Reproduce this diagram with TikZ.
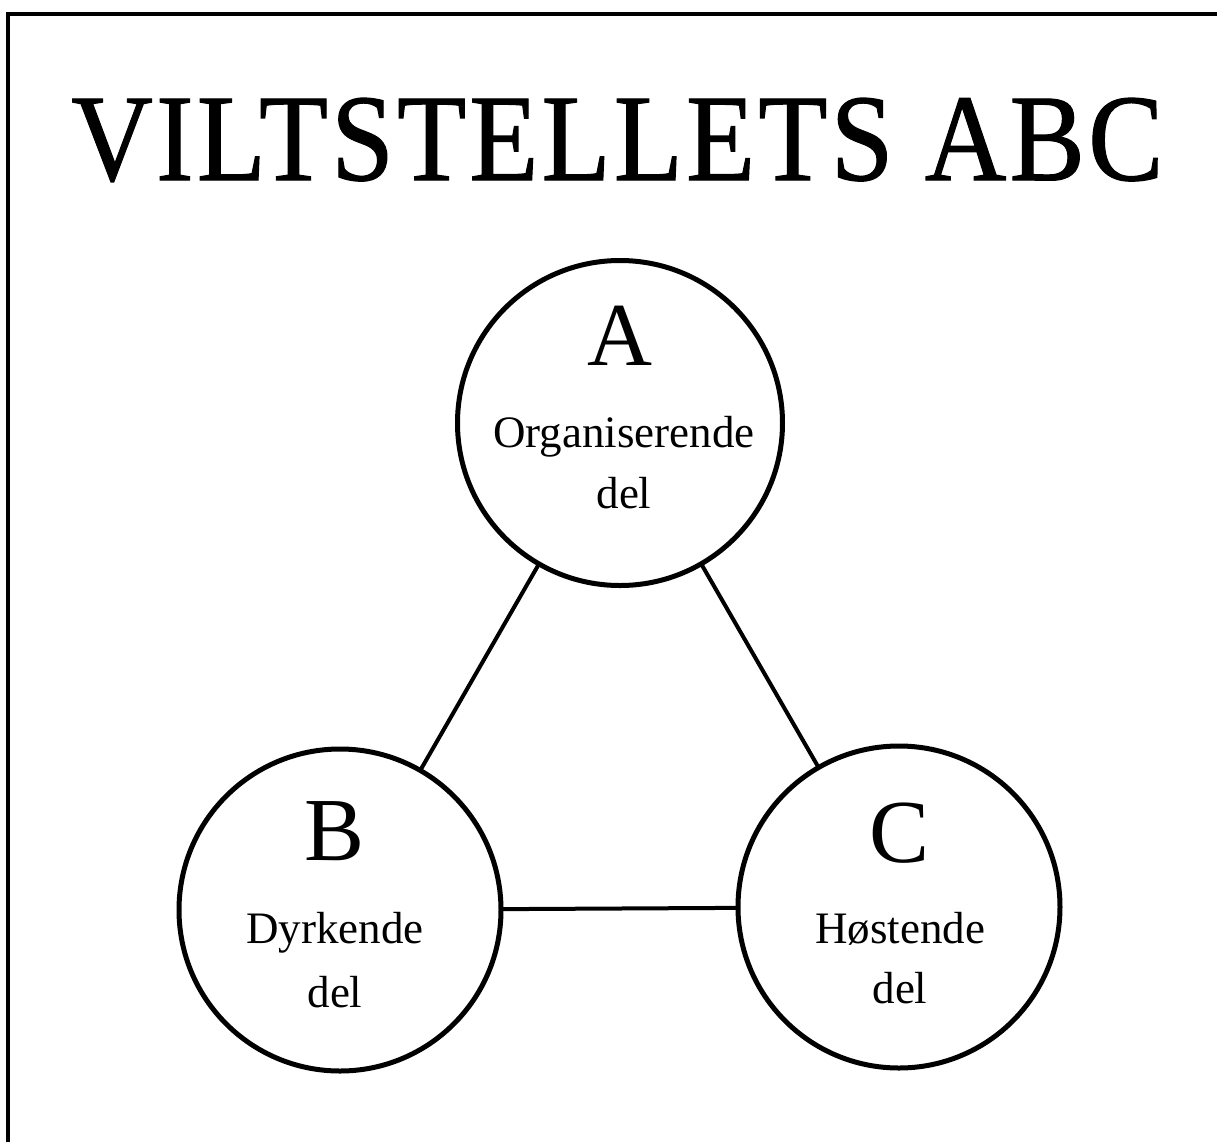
\documentclass[tikz,border=0pt]{standalone}
\usepackage{fontspec}
\setmainfont{Liberation Serif}
\newfontfamily\titlefont[LetterSpace=3,FakeBold=1]{Liberation Serif}
\begin{document}
\begin{tikzpicture}[x=0.5pt,y=-0.5pt,
  frameline/.style={line width=2pt},
  bigcirc/.style={circle,draw,line width=2.5pt,inner sep=0pt,outer sep=0pt},
  conn/.style={line width=2pt},
  letter/.style={anchor=base,inner sep=0pt,font=\fontsize{45}{45}\selectfont},
  word/.style={anchor=base,inner sep=0pt,font=\fontsize{22.5}{22.5}\selectfont}]
\useasboundingbox[fill=white] (0,0) rectangle (1217,1142);
% frame (left and top edges)
\coordinate (fbl) at (8,1142);
\coordinate (ftl) at (8,14);
\coordinate (ftr) at (1217,14);
\draw[frameline] (fbl) -- (ftl) -- (ftr);
% title
\node[anchor=base west,inner sep=0pt] (title) at (71,180)
  {\resizebox{546pt}{41pt}{\titlefont\fontsize{62}{62}\selectfont VILTSTELLETS ABC}};
% circles
\node[bigcirc,minimum size=162.5pt] (A) at (620,423) {};
\node[bigcirc,minimum size=161pt] (B) at (340,910) {};
\node[bigcirc,minimum size=161pt] (C) at (899,907) {};
% connectors
\draw[conn] (A) -- (B);
\draw[conn] (A) -- (C);
\draw[conn] (B) -- (C);
% texts in A
\node[letter] (Al) at (620,365) {A};
\node[word] (Aw1) at (624,447) {Organiserende};
\node[word] (Aw2) at (624,508) {del};
% texts in B
\node[letter] (Bl) at (335,860) {B};
\node[word] (Bw1) at (335,943) {Dyrkende};
\node[word] (Bw2) at (335,1007) {del};
% texts in C
\node[letter] (Cl) at (900,862) {C};
\node[word] (Cw1) at (900,943) {Høstende};
\node[word] (Cw2) at (900,1003) {del};
\end{tikzpicture}
\end{document}
